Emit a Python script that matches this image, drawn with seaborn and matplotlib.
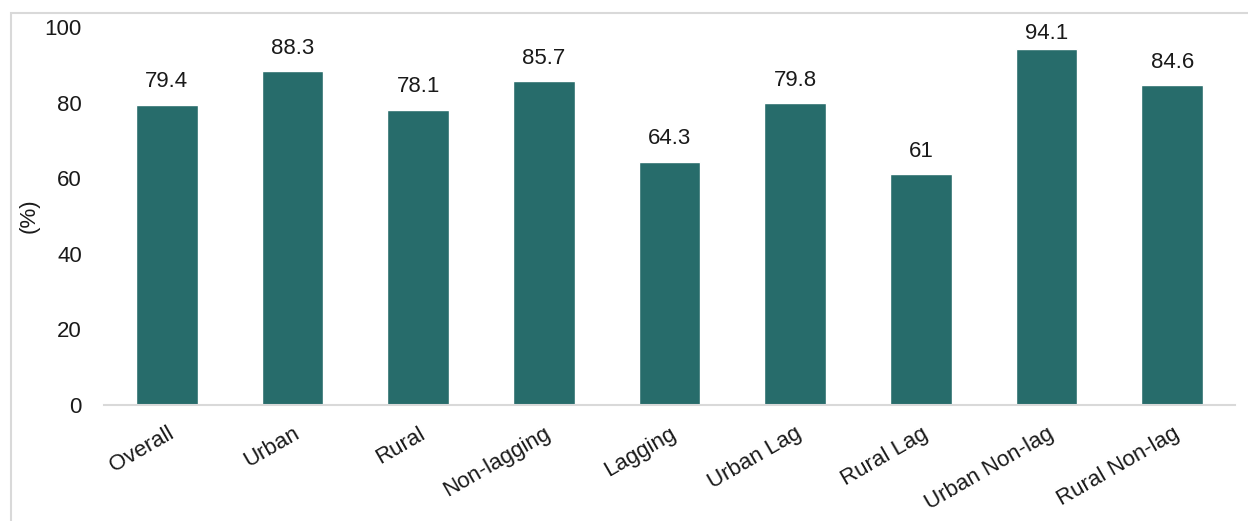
import matplotlib
matplotlib.use("Agg")
import matplotlib.pyplot as plt
import seaborn as sns
import pandas as pd
from matplotlib.patches import Rectangle

categories = ["Overall", "Urban", "Rural", "Non-lagging", "Lagging", "Urban Lag",
              "Rural Lag", "Urban Non-lag", "Rural Non-lag"]
values = [79.4, 88.3, 78.1, 85.7, 64.3, 79.8, 61, 94.1, 84.6]
labels = ["79.4", "88.3", "78.1", "85.7", "64.3", "79.8", "61", "94.1", "84.6"]
y_ticks = [0, 20, 40, 60, 80, 100]

sns.set_theme(style="white")
plt.rcParams['font.family'] = ['Liberation Sans', 'DejaVu Sans']

df = pd.DataFrame({"cat": categories, "val": values})

fig = plt.figure(figsize=(12.48, 5.21), dpi=100)
ax = fig.add_axes([104/1248, 1 - 405/521, (1235 - 104)/1248, (405 - 27)/521])
sns.barplot(data=df, x="cat", y="val", color="#276C6B", saturation=1, width=0.49, ax=ax)

fs = 16
for p, lab in zip(ax.patches, labels):
    off = 9 if p.get_height() < 92 else 4
    ax.annotate(lab, (p.get_x() + p.get_width() / 2, p.get_height()),
                xytext=(0, off), textcoords="offset points", ha="center", va="bottom",
                fontsize=fs, color="#1a1a1a", annotation_clip=False)

ax.set_ylim(0, 100)
ax.set_yticks(y_ticks)
ax.set_yticklabels([str(t) for t in y_ticks], fontsize=fs, color="#1a1a1a")
ax.set_xlabel("")
ax.set_ylabel("(%)", fontsize=fs, color="#1a1a1a")
ax.yaxis.set_label_coords((40 - 104) / 1131, 0.5)
ax.set_xticks(range(len(categories)))
ax.set_xticklabels(categories, rotation=30, ha="right", rotation_mode="anchor",
                   fontsize=fs, color="#1a1a1a")
ax.tick_params(axis="y", length=0, pad=16)
ax.tick_params(axis="x", length=0, pad=13)
for s in ["top", "right", "left"]:
    ax.spines[s].set_visible(False)
ax.spines["bottom"].set_color("#D9D9D9")
ax.spines["bottom"].set_linewidth(1.5)
ax.grid(False)

fig.patches.append(Rectangle((11/1248, -0.1), 1.2, 1 - 13/521 + 0.1, transform=fig.transFigure,
                             fill=False, edgecolor="#D9D9D9", linewidth=1.5))

fig.savefig("out.png", dpi=100)
